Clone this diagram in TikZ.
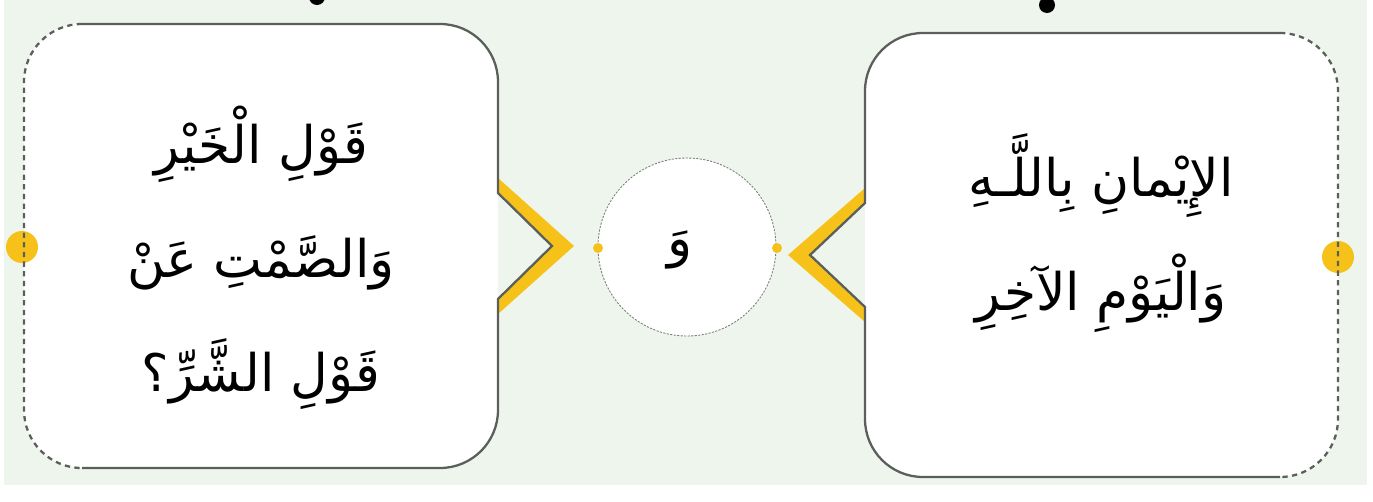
\documentclass[tikz,border=0pt]{standalone}
\usepackage{fontspec}
\newfontfamily\arabicfont[Script=Arabic]{DejaVu Sans}
\TeXXeTstate=1
\usetikzlibrary{calc}
\definecolor{bggreen}{HTML}{EEF5EC}
\definecolor{gold}{HTML}{F6C21A}
\definecolor{edge}{HTML}{5B5F5B}
\definecolor{pin}{HTML}{2F3A32}
\tikzset{
  boxline/.style={draw=edge, line width=1.3pt},
  boxdash/.style={draw=edge, line width=1.3pt, dash pattern=on 3pt off 2.5pt},
  arabic/.style={font=\arabicfont\fontsize{29.5}{65}\selectfont, align=center, text=black}
}

\begin{document}
\begin{tikzpicture}[x=0.02cm, y=-0.02cm]
			%%%%% START %%%%%
			\useasboundingbox (0,0) rectangle (1373,501);
			\fill[white] (0,0) rectangle (1373,501);
			\fill[bggreen] (4,0) rectangle (1367,485);
			
			\fill[pin] (317,-3) circle (8);
			\fill[pin] (1047,5) circle (8);
			
			% left card
			\fill[white, rounded corners=1.16cm] (24,24) rectangle (498,468);
			\fill[gold] (22,247) circle (16);
			\fill[gold] (498,178) -- (574,246) -- (498,314) -- (498,299) -- (552,246) -- (498,193) -- cycle;
			\draw[boxline] (82,24) -- (440,24) arc (-90:0:58) -- (498,193) -- (552,246) -- (498,299) -- (498,410) arc (0:90:58) -- (82,468);
			\draw[boxdash] (82,24) arc (-90:-180:58) -- (24,410) arc (180:90:58) -- (82,468);
			
			% right card
			\fill[white, rounded corners=1.16cm] (865,33) rectangle (1338,477);
			\fill[gold] (1338,257) circle (16);
			\fill[gold] (865,188) -- (788,255) -- (865,322) -- (865,307) -- (810,255) -- (865,203) -- cycle;
			\draw[boxline] (1280,33) -- (923,33) arc (-90:-180:58) -- (865,203) -- (810,255) -- (865,307) -- (865,419) arc (180:90:58) -- (1280,477);
			\draw[boxdash] (1280,33) arc (-90:0:58) -- (1338,419) arc (0:90:58) -- (1280,477);
			
			% middle
			\draw[fill=white, draw=edge!80, line width=0.5pt, dash pattern=on 1.2pt off 0.8pt] (687,247) circle (89);
			\fill[gold] (598,248) circle (5);
			\fill[gold] (777,248) circle (5);
			
			\node[arabic] (khayr) at (261,258) {\beginR قَوْلِ الْخَيْرِ\endR\\ \beginR وَالصَّمْتِ عَنْ\endR\\ \beginR قَوْلِ الشَّرِّ؟\endR};
			\node[arabic] (iman) at (1101,233) {\beginR الإِيْمانِ بِاللَّـهِ\endR\\ \beginR وَالْيَوْمِ الآخِرِ\endR};
			\node[arabic] (waw) at (680,250) {\beginR وَ\endR};
			%%%%% END %%%%%
\end{tikzpicture}
\end{document}
